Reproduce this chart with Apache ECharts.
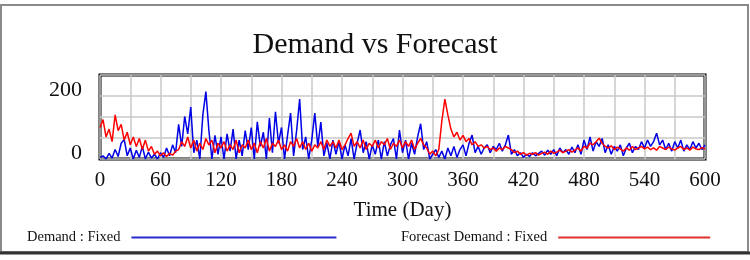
<!DOCTYPE html>
<html>
<head>
<meta charset="utf-8">
<script src="https://cdn.jsdelivr.net/npm/echarts@6/dist/echarts.min.js"></script>
<style>html,body{margin:0;padding:0;background:#fff}#c{width:750px;height:260px}</style>
</head>
<body>
<div id="c"></div>
<script>
// x categories: simulation days (sampled every 3 days)
const days = Array.from({length: 201}, (_, i) => i * 3);
const xTicks = [0, 60, 120, 180, 240, 300, 360, 420, 480, 540, 600];
const yTicks = [0, 200];

const demand = [
  5,10,0,18,3,30,8,50,62,10, 35,0,28,5,40,0,22,3,15,0,
  20,5,35,10,45,20,110,40,135,80, 165,20,60,0,140,214,90,0,75,15,
  70,0,80,25,95,0,60,10,90,30, 100,0,118,40,85,0,130,20,150,50,
  100,0,75,146,10,90,190,30,70,0, 60,146,40,117,10,50,0,60,15,55,
  0,45,10,65,0,50,92,20,55,0, 45,15,60,0,55,10,45,65,0,92,
  20,60,0,50,15,70,112,30,55,0, 15,30,5,25,0,35,10,40,5,30,
  45,10,50,76,20,40,15,35,45,20, 40,30,50,25,45,76,15,30,10,20,
  5,15,8,20,10,18,25,12,28,15, 30,10,35,20,30,15,38,20,45,15,
  60,30,70,25,55,40,65,20,45,15, 40,25,45,10,35,50,20,40,30,55,
  35,60,40,55,82,45,60,30,50,25, 55,35,60,25,45,30,55,35,50,30,
  45
];

const forecast = [
  100,125,70,95,55,140,90,110,60,85, 45,70,40,65,30,60,25,40,15,25,
  10,20,8,18,12,25,30,55,40,70, 35,60,25,50,30,65,45,60,20,50,
  35,55,25,45,30,60,20,45,35,60, 30,50,20,55,35,65,25,50,40,60,
  30,45,25,55,40,65,35,55,30,50, 25,45,35,55,30,60,40,55,35,60,
  30,45,65,82,40,55,35,60,30,50, 40,60,35,55,45,65,30,50,40,60,
  35,55,40,60,30,50,65,45,35,15, 25,10,30,120,190,140,95,70,85,60,
  75,55,65,45,55,40,45,35,40,30, 35,25,35,30,40,35,30,20,25,15,
  20,12,18,15,20,12,18,22,15,25, 18,22,28,20,25,30,22,28,35,25,
  40,35,50,45,55,66,50,40,35,42, 30,38,32,25,35,28,40,30,35,40,
  32,38,30,35,28,40,35,30,38,32, 28,35,40,30,35,28,38,32,30,36,
  32
];

const serif = '"Liberation Serif", "DejaVu Serif", serif';
const chart = echarts.init(document.getElementById('c'), null, {renderer: 'canvas'});
const pairs = arr => days.map((d, i) => [d, arr[i]]);

chart.setOption({
  animation: false,
  backgroundColor: '#fff',
  title: {
    text: 'Demand vs Forecast', left: 'center', top: 25,
    textStyle: {fontFamily: serif, fontSize: 30, fontWeight: 'normal', color: '#111'}
  },
  grid: {
    left: 100, top: 75, width: 605, height: 84, show: true,
    borderColor: '#000', borderWidth: 3, backgroundColor: '#fff'
  },
  legend: [
    {
      left: 22, top: 225, align: 'right', itemWidth: 205, itemHeight: 2, itemGap: 10,
      icon: 'rect', data: ['Demand : Fixed'],
      textStyle: {fontFamily: serif, fontSize: 14.5, color: '#111', padding: [0, 6, 0, 0]}
    },
    {
      left: 396, top: 225, align: 'right', itemWidth: 152, itemHeight: 2, itemGap: 10,
      icon: 'rect', data: ['Forecast Demand : Fixed'],
      textStyle: {fontFamily: serif, fontSize: 14.5, color: '#111', padding: [0, 6, 0, 0]}
    }
  ],
  xAxis: {
    type: 'value', min: 0, max: 600, interval: 30,
    name: 'Time (Day)', nameLocation: 'middle', nameGap: 41,
    nameTextStyle: {fontFamily: serif, fontSize: 21, color: '#111'},
    axisLine: {show: false}, axisTick: {show: false},
    axisLabel: {
      margin: 11, fontFamily: serif, fontSize: 21, color: '#111',
      formatter: v => xTicks.includes(Math.round(v)) && Math.abs(v - Math.round(v)) < 0.01 ? String(Math.round(v)) : ''
    },
    splitLine: {show: true, lineStyle: {color: '#c8c8c8', width: 1.5}}
  },
  yAxis: {
    type: 'value', min: 0, max: 800 / 3, interval: 200 / 3,
    axisLine: {show: false}, axisTick: {show: false},
    axisLabel: {
      margin: 18, fontFamily: serif, fontSize: 22, color: '#111',
      verticalAlign: 'bottom', lineHeight: 12,
      formatter: v => { for (const t of yTicks) { if (Math.abs(v - t) < 0.5) return String(t); } return ''; }
    },
    splitLine: {show: true, lineStyle: {color: '#c8c8c8', width: 1.5}}
  },
  series: [
    {
      name: 'Demand : Fixed', type: 'line', data: pairs(demand), showSymbol: false,
      lineStyle: {color: '#0000e6', width: 1.5}, itemStyle: {color: '#2a2ad0'}
    },
    {
      name: 'Forecast Demand : Fixed', type: 'line', data: pairs(forecast), showSymbol: false,
      lineStyle: {color: '#ff0000', width: 1.5}, itemStyle: {color: '#e03030'}
    }
  ],
  graphic: [
    {type: 'rect', shape: {x: 1, y: 5, width: 747, height: 247}, style: {fill: null, stroke: '#8a8a8a', lineWidth: 2}, silent: true, z: -1},
    {type: 'line', shape: {x1: 0, y1: 253, x2: 750, y2: 253}, style: {stroke: '#333', lineWidth: 3}, silent: true}
  ]
});
</script>
</body>
</html>
